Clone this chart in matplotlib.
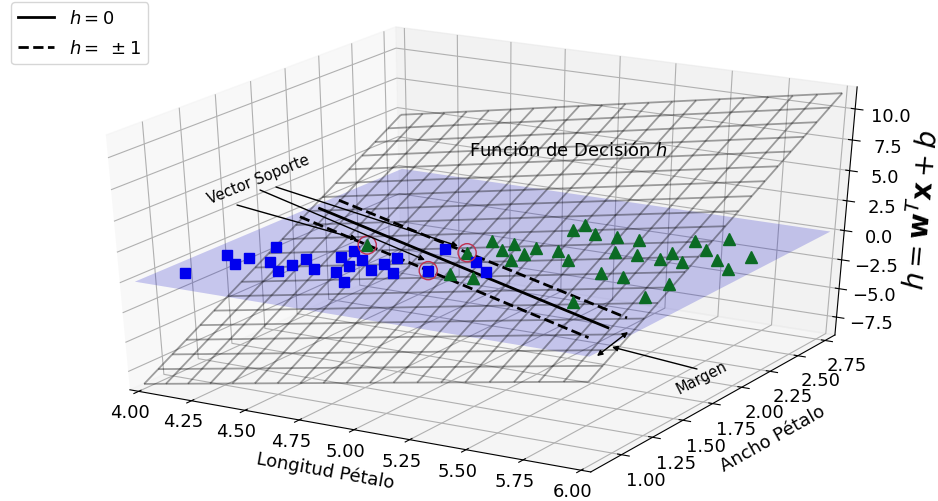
import numpy as np
import matplotlib
matplotlib.use("Agg")
import matplotlib.pyplot as plt

plt.rcParams["axes3d.automargin"] = True

w = [3.33, 6.67]
b = -27.33

# iris versicolor (squares)
blue_x1 = [4.1, 4.1, 4.2, 4.2, 4.2, 4.3, 4.4, 4.4, 4.4, 4.5, 4.5, 4.5, 4.6, 4.6, 4.6, 4.7, 4.7, 4.7, 4.7, 4.8, 4.9, 4.8, 5.0, 5.1]
blue_x2 = [1.0, 1.3, 1.2, 1.3, 1.5, 1.3, 1.2, 1.3, 1.4, 1.3, 1.5, 1.6, 1.5, 1.4, 1.3, 1.2, 1.4, 1.5, 1.6, 1.4, 1.5, 1.8, 1.7, 1.6]

# iris virginica (triangles)
green_x1 = [4.5, 5.0, 5.1, 4.9, 4.9, 5.0, 5.0, 5.1, 5.1, 5.1, 5.2, 5.3, 5.1, 5.1, 5.2, 5.3, 5.4, 5.4, 5.5, 5.6, 5.6, 5.7, 5.6, 5.7, 5.7, 5.8, 5.9, 5.9, 5.5, 5.6, 5.8, 5.8, 5.6]
green_x2 = [1.7, 1.5, 1.5, 1.8, 2.0, 1.9, 2.0, 1.8, 1.9, 2.0, 2.0, 1.9, 2.3, 2.4, 2.3, 2.3, 2.3, 2.1, 2.1, 2.1, 2.2, 2.1, 2.4, 2.3, 2.5, 2.2, 2.3, 2.1, 1.8, 1.8, 1.8, 1.6, 1.4]

# support vectors
sv_x1 = [4.5, 4.9, 4.9]
sv_x2 = [1.7, 1.5, 1.8]

x1_lim = [4, 6]
x2_lim = [0.8, 2.8]
z_lim = [-8.67, 11.33]
z_ticks = [-7.5, -5.0, -2.5, 0.0, 2.5, 5.0, 7.5, 10.0]
x1_ticks = [4.00, 4.25, 4.50, 4.75, 5.00, 5.25, 5.50, 5.75, 6.00]
x2_ticks = [1.00, 1.25, 1.50, 1.75, 2.00, 2.25, 2.50, 2.75]

fig = plt.figure(figsize=(9.38, 5.02), dpi=100)
ax = fig.add_axes([0.0865, 0.0877, 0.847, 0.841], projection="3d")
# stretch the 3d box to the whole rectangle like old matplotlib did
ax.apply_aspect = lambda position=None: None
ax.view_init(elev=30, azim=-60)
ax.set_box_aspect((4, 4, 4.1), zoom=1.136)
ax.computed_zorder = False

x1s = np.linspace(4, 6, 20)
x2s = np.linspace(0.8, 2.8, 20)
x1, x2 = np.meshgrid(x1s, x2s)
df = x1 * w[0] + x2 * w[1] + b

lines_x1 = np.linspace(4.04, 5.88, 200)
bound = -lines_x1 * (w[0] / w[1]) - b / w[1]
up = -lines_x1 * (w[0] / w[1]) - (b - 1) / w[1]
down = -lines_x1 * (w[0] / w[1]) - (b + 1) / w[1]

ax.plot_surface(x1, x2, np.zeros_like(x1), color="b", alpha=0.2, rstride=100, cstride=100, zorder=1)
ax.plot_wireframe(x1, x2, df, alpha=0.36, color="k", linewidth=1.3, zorder=2)
ax.plot(lines_x1, bound, 0, "k-", linewidth=2, label=r"$h=0$", zorder=3)
ax.plot(lines_x1, up, 0, "k--", linewidth=2, label=r"$h=\;\pm 1$", zorder=3)
ax.plot(lines_x1, down, 0, "k--", linewidth=2, zorder=3)
ax.plot(green_x1, green_x2, 0, "^", color="#0b6b24", markersize=8, zorder=4)
ax.plot(blue_x1, blue_x2, 0, "s", color="#0000ee", markersize=7, zorder=4)
ax.scatter(sv_x1, sv_x2, 0, s=170, facecolors="none", edgecolors="#c03050", linewidths=1, depthshade=False, zorder=5)

ax.set_xlim(x1_lim)
ax.set_ylim(x2_lim)
ax.set_zlim(z_lim)
ax.set_xticks(x1_ticks)
ax.set_yticks(x2_ticks)
ax.set_zticks(z_ticks)
ax.tick_params(labelsize=13)
ax.tick_params(axis="x", pad=-1)
for axis in [ax.xaxis, ax.yaxis, ax.zaxis]:
    axis.offsetText.set_visible(False)

ax.set_xlabel("Longitud Pétalo", fontsize=13, labelpad=3)
ax.set_ylabel("Ancho Pétalo", fontsize=13, labelpad=6)
ax.set_zlabel(r"$h = \mathbf{w}^T \mathbf{x} + b$", fontsize=20, labelpad=4)
ax.text(4.5, 2.5, 3.8, "Función de Decisión $h$", fontsize=13, zorder=6)
ax.legend(loc="upper left", fontsize=13, labelspacing=0.65, borderaxespad=0, bbox_to_anchor=(11 / 938, 1 - 3 / 502), bbox_transform=fig.transFigure)


def arrow(start, end, style="-|>"):
    ax.annotate("", xy=(end[0], 502 - end[1]), xycoords="figure pixels",
                xytext=(start[0], 502 - start[1]), textcoords="figure pixels",
                arrowprops=dict(arrowstyle=style, color="k", lw=1, mutation_scale=8, shrinkA=0, shrinkB=0), zorder=7)


arrow((237, 206), (357, 240))
arrow((260, 191), (425, 261))
arrow((276, 188), (458, 247))
arrow((697, 370), (612, 348))
arrow((597, 357), (628, 333), "<|-|>")
fig.text(258 / 938, 1 - 180 / 502, "Vector Soporte", fontsize=10.5, rotation=22, ha="center", va="center")
fig.text(702 / 938, 1 - 378 / 502, "Margen", fontsize=10.5, rotation=27, ha="center", va="center")

fig.savefig("out.png", dpi=100)
